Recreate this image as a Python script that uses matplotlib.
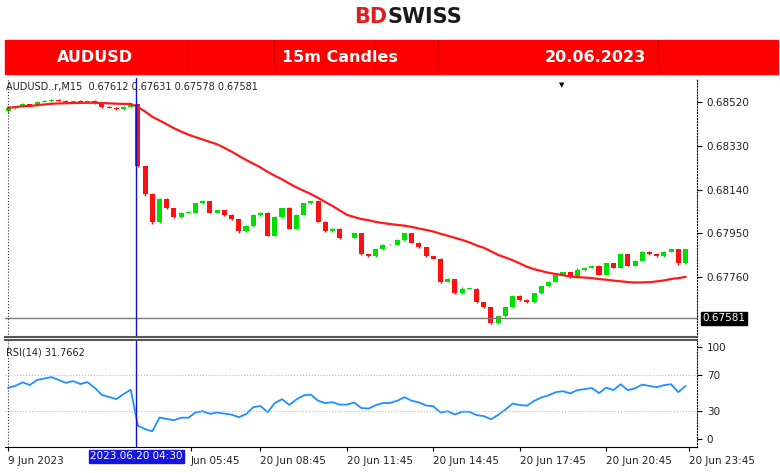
import numpy as np
import pandas as pd
import matplotlib
matplotlib.use("Agg")
import matplotlib.pyplot as plt
from matplotlib.patches import Rectangle

# 15m closes, 19 Jun 23:45 -> 20 Jun 23:45
closes = np.array([
    0.68495, 0.68500, 0.68510, 0.68505, 0.68520, 0.68525, 0.68530, 0.68525, 0.68520, 0.68525,
    0.68520, 0.68525, 0.68515, 0.68500, 0.68495, 0.68490, 0.68500, 0.68510, 0.68240, 0.68120,
    0.68000, 0.68100, 0.68060, 0.68020, 0.68040, 0.68040, 0.68080, 0.68090, 0.68040, 0.68050,
    0.68030, 0.68010, 0.67960, 0.67980, 0.68030, 0.68040, 0.67940, 0.68020, 0.68060, 0.67970,
    0.68030, 0.68080, 0.68090, 0.68000, 0.67960, 0.67970, 0.67930, 0.67930, 0.67950, 0.67860,
    0.67850, 0.67880, 0.67900, 0.67900, 0.67920, 0.67950, 0.67910, 0.67890, 0.67850, 0.67840,
    0.67740, 0.67750, 0.67690, 0.67710, 0.67710, 0.67650, 0.67630, 0.67560, 0.67590, 0.67630,
    0.67680, 0.67660, 0.67650, 0.67690, 0.67720, 0.67740, 0.67770, 0.67780, 0.67760, 0.67790,
    0.67800, 0.67810, 0.67770, 0.67820, 0.67800, 0.67860, 0.67810, 0.67830, 0.67870, 0.67860,
    0.67850, 0.67870, 0.67880, 0.67820, 0.67880,
])
first_open = 0.68480
wick_up = np.array([6, 3, 4, 3, 6, 4, 3, 3, 2, 2, 3, 2, 3, 4, 2, 4, 2, 3, 2, 3,
                    3, 3, 4, 2, 3, 2, 2, 1, 2, 2, 2, 3, 2, 4, 2, 2, 3, 4, 2, 3,
                    2, 3, 2, 2, 2, 2, 2, 1, 3, 3, 2, 2, 3, 2, 4, 3, 3, 2, 2, 1,
                    2, 4, 2, 7, 3, 2, 2, 2, 2, 2, 3, 2, 3, 3, 3, 2, 2, 2, 2, 8,
                    2, 2, 2, 3, 2, 3, 2, 2, 3, 2, 4, 2, 2, 2, 2]) * 1e-5
wick_dn = np.array([6, 5, 4, 3, 2, 2, 3, 2, 2, 3, 2, 2, 4, 5, 3, 3, 6, 3, 2, 8,
                    9, 4, 3, 3, 2, 2, 2, 2, 2, 4, 3, 4, 9, 3, 2, 3, 3, 2, 2, 3,
                    2, 2, 2, 3, 4, 3, 3, 2, 2, 4, 2, 2, 2, 2, 2, 3, 3, 2, 2, 2,
                    5, 2, 3, 2, 2, 2, 3, 5, 3, 2, 2, 2, 2, 2, 3, 2, 2, 2, 4, 2,
                    2, 2, 3, 2, 2, 2, 2, 2, 2, 2, 2, 2, 2, 6, 2]) * 1e-5

price_ticks = [0.68520, 0.68330, 0.68140, 0.67950, 0.67760]
last_price = 0.67581
time_labels = ["9 Jun 2023", "Jun 05:45", "20 Jun 08:45", "20 Jun 11:45", "20 Jun 14:45",
               "20 Jun 17:45", "20 Jun 20:45", "20 Jun 23:45"]
time_idx = [0, 25.3, 35, 47, 59, 71, 83, 94.5]
cursor_idx = 17.8
rsi_seed = 3.6e-5  # average gain/loss carried in from before the window

opens = np.concatenate([[first_open], closes[:-1]])
highs = np.maximum(opens, closes) + wick_up
lows = np.minimum(opens, closes) - wick_dn
ma = pd.Series(closes).rolling(30, min_periods=1).mean()

# Wilder RSI(14)
d = np.diff(closes, prepend=first_open)
ag, al = rsi_seed, rsi_seed * 1.05
rsi = []
for v in d:
    ag = (ag * 13 + max(v, 0)) / 14
    al = (al * 13 + max(-v, 0)) / 14
    rsi.append(100 - 100 / (1 + ag / al))

W, H = 780, 473
fig = plt.figure(figsize=(W / 100, H / 100), dpi=100)

# header
fig.text(0.5 - 0.003, 1 - 17 / H, "BD", color="#e01e1e", fontsize=15, fontweight="bold",
         ha="right", va="center")
fig.text(0.5 - 0.003, 1 - 17 / H, "SWISS", color="#1a1a1a", fontsize=15, fontweight="bold",
         ha="left", va="center")
fig.patches.append(Rectangle((5 / W, 1 - 74 / H), 773 / W, 34 / H, color="#ff0000",
                             transform=fig.transFigure))
for xd in [187, 274, 375, 438, 658]:
    fig.lines.append(plt.Line2D([xd / W, xd / W], [1 - 74 / H, 1 - 40 / H], color="#d80000",
                                lw=0.8, transform=fig.transFigure))
for txt, xc in [("AUDUSD", 95), ("15m Candles", 340), ("20.06.2023", 595)]:
    fig.text(xc / W, 1 - 57 / H, txt, color="white", fontsize=11.5, fontweight="bold",
             ha="center", va="center")

n = len(closes)
xl = (-0.45, 95.6)

ax = fig.add_axes([5 / W, 1 - 337 / H, 692 / W, 259 / H])
for i in range(n):
    col = "#00e000" if closes[i] >= opens[i] else "#ff1010"
    ax.vlines(i, lows[i], highs[i], color=col, lw=1)
    lo, hi = sorted([opens[i], closes[i]])
    ax.add_patch(Rectangle((i - 0.35, lo), 0.7, max(hi - lo, 1e-5), color=col, lw=0))
ax.plot(np.arange(n), ma, color="#ff1a1a", lw=1.6)
ax.axhline(last_price, color="#777777", lw=1)
ax.axvline(cursor_idx, color="#1010d0", lw=1)
ax.set_xlim(*xl)
ax.set_ylim(0.67500, 0.68624)
ax.yaxis.tick_right()
ax.set_yticks(price_ticks)
ax.set_yticklabels([f"{p:.5f}" for p in price_ticks], fontsize=7.5, color="#222222")
ax.set_xticks([])
ax.annotate(f"{last_price:.5f}", xy=(1.0, last_price), xycoords=("axes fraction", "data"),
            xytext=(4, 0), textcoords="offset points", fontsize=7.5, color="white",
            va="center", bbox=dict(boxstyle="square,pad=0.15", fc="black", ec="black"))
ax.text(0.002, 0.985, "AUDUSD..r,M15  0.67612 0.67631 0.67578 0.67581", transform=ax.transAxes,
        fontsize=7, va="top", color="#222222")
ax.text(0.8, 0.985, "▼", transform=ax.transAxes, fontsize=5, va="top")
for sp in ["left", "top"]:
    ax.spines[sp].set_visible(False)
ax.spines["right"].set_linestyle(":")
ax.spines["bottom"].set_color("#555555")
ax.spines["bottom"].set_linewidth(1.5)
ax.axvline(xl[0] + 0.4, color="#333333", lw=0.8, ls=":")

ax2 = fig.add_axes([5 / W, 1 - 447 / H, 692 / W, 107 / H])
ax2.plot(np.arange(n), rsi, color="#1e90ff", lw=1.3)
ax2.axhline(70, color="#bbbbbb", lw=0.8, ls=":")
ax2.axhline(30, color="#bbbbbb", lw=0.8, ls=":")
ax2.axvline(cursor_idx, color="#1010d0", lw=1)
ax2.axvline(xl[0] + 0.4, color="#333333", lw=0.8, ls=":")
ax2.set_xlim(*xl)
ax2.set_ylim(-8.7, 107.6)
ax2.yaxis.tick_right()
ax2.set_yticks([100, 70, 30, 0])
ax2.set_yticklabels(["100", "70", "30", "0"], fontsize=7.5, color="#222222")
ax2.text(0.002, 0.93, "RSI(14) 31.7662", transform=ax2.transAxes, fontsize=7, va="top",
         color="#222222")
ax2.set_xticks(time_idx)
ax2.set_xticklabels(time_labels, fontsize=7.5, color="#222222", ha="left")
ax2.tick_params(axis="x", length=3)
ax2.text(cursor_idx, -19, "2023.06.20 04:30", fontsize=7.5, color="white", va="center",
         ha="center", zorder=10,
         bbox=dict(boxstyle="square,pad=0.15", fc="#1515e0", ec="#1515e0"))
ax2.spines["left"].set_visible(False)
ax2.spines["right"].set_linestyle(":")
ax2.spines["top"].set_color("#555555")
ax2.spines["top"].set_linewidth(1.5)

fig.savefig("out.png", dpi=100)
